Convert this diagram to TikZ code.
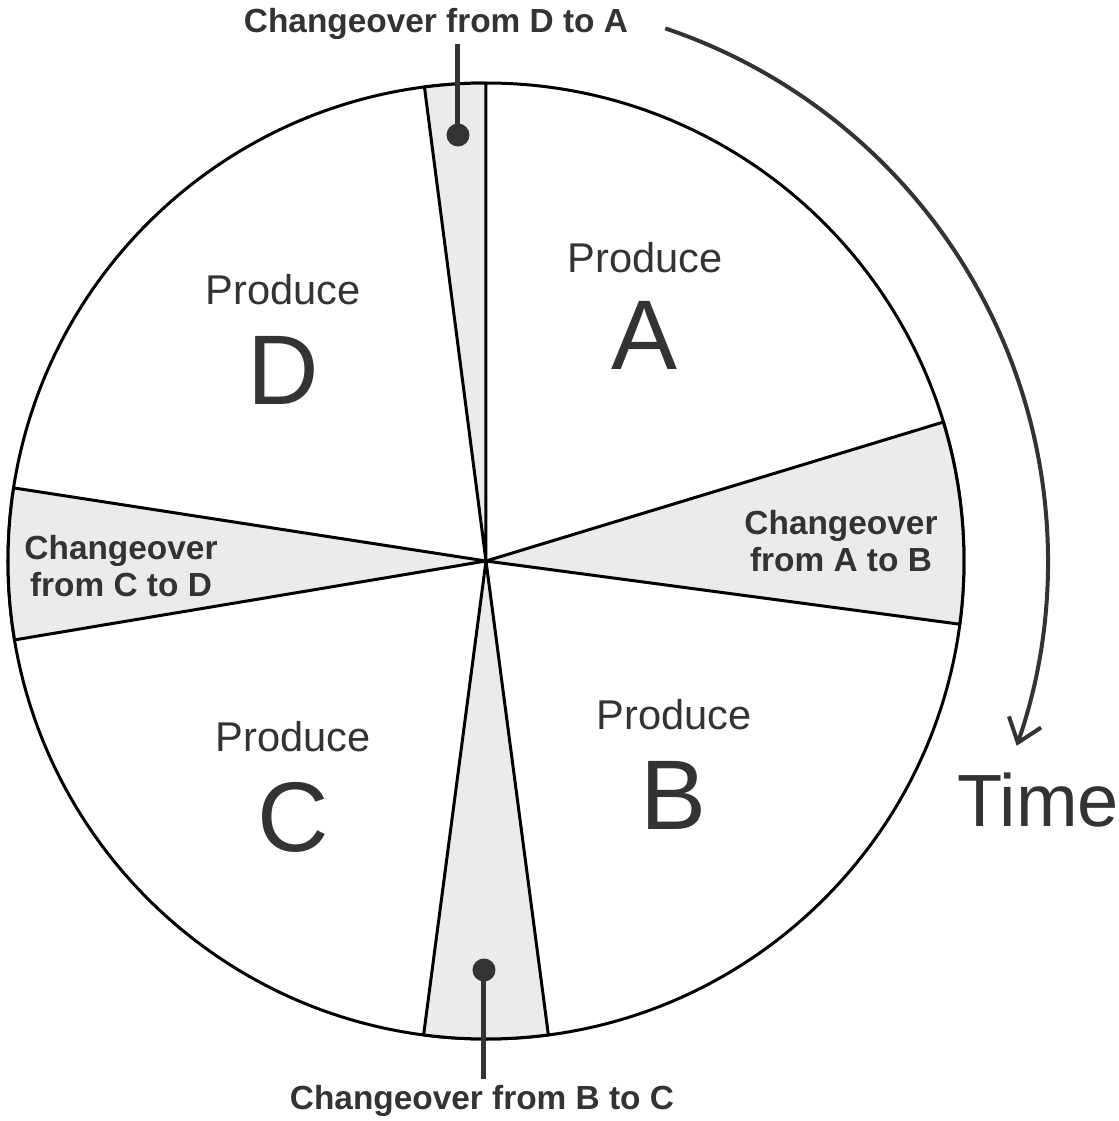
\documentclass[tikz,border=0pt]{standalone}
\usepackage{fontspec}
\setmainfont{Liberation Sans}
\usetikzlibrary{positioning, arrows.meta}
\definecolor{inkgray}{HTML}{333333}
\definecolor{wedgegray}{HTML}{EBEBEB}

\begin{document}
\begin{tikzpicture}[x=0.5pt, y=0.5pt, >={Straight Barb[length=11pt, width=17pt]},
    every node/.style={text=inkgray, inner sep=0pt},
    produce/.style={font=\fontsize{20.8}{24}\selectfont},
    letter/.style={font=\fontsize{49.5}{58}\selectfont},
    change/.style={font=\bfseries\fontsize{16.7}{18.5}\selectfont, align=center},
    wedge/.style={fill=wedgegray, draw=black, line width=1.5pt, line join=round},
    leader/.style={draw=inkgray, line width=2.5pt},
    dot/.style={circle, fill=inkgray, minimum size=11.5pt}]
    \useasboundingbox (-486,-560) rectangle (633,561);

    % Cycle
    \draw[line width=1.5pt, fill=white] (0,0) circle (478);
    \draw[wedge] (0,0) -- (90:478) arc[start angle=90, end angle=97.4, radius=478] -- cycle;
    \draw[wedge] (0,0) -- (-7.6:478) arc[start angle=-7.6, end angle=16.9, radius=478] -- cycle;
    \draw[wedge] (0,0) -- (-97.5:478) arc[start angle=-97.5, end angle=-82.5, radius=478] -- cycle;
    \draw[wedge] (0,0) -- (171.2:478) arc[start angle=171.2, end angle=189.5, radius=478] -- cycle;

    % Produce sectors
    \node (prodA) at (159,303) [produce] {Produce};
    \node (letA) at (159,226) [letter] {A};
    \node (prodB) at (188,-154) [produce] {Produce};
    \node (letB) at (188,-234) [letter] {B};
    \node (prodC) at (-193,-176) [produce] {Produce};
    \node (letC) at (-193,-256) [letter] {C};
    \node (prodD) at (-203,271) [produce] {Produce};
    \node (letD) at (-203,191) [letter] {D};

    % Changeover labels
    \node (chAB) at (355,20) [change] {Changeover\\from A to B};
    \node (chCD) at (-365,-5) [change] {Changeover\\from C to D};
    \node (chDA) at (-50,537) [change] {Changeover from D to A};
    \node (chBC) at (-4,-540) [change] {Changeover from B to C};
    \node (dotDA) at (-28,426) [dot] {};
    \node (dotBC) at (-2,-409) [dot] {};
    \draw[leader] ([yshift=-2pt]chDA.south -| dotDA) -- (dotDA.center);
    \draw[leader] (dotBC.center) -- ([yshift=3pt]chBC.north -| dotBC);

    % Time arrow
    \coordinate (tstart) at (71.4:562);
    \node (time) at (552,-239) [font=\fontsize{37}{44}\selectfont] {Time};
    \draw[->, draw=inkgray, line width=2pt] (tstart) arc[start angle=71.4, end angle=-19.2, radius=562];
\end{tikzpicture}
\end{document}
